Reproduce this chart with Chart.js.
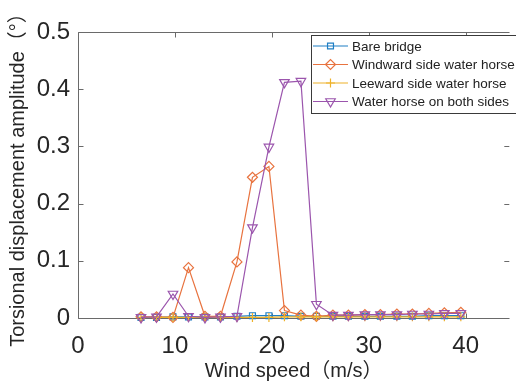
<!DOCTYPE html>
<html>
<head>
<meta charset="utf-8">
<script src="https://cdn.jsdelivr.net/npm/chart.js@4.4.1/dist/chart.umd.min.js"></script>
<style>
html,body{margin:0;padding:0;background:#fff;}
#wrap{width:516px;height:386px;}
</style>
</head>
<body>
<div id="wrap"><canvas id="c" width="516" height="386"></canvas></div>
<script>
const windSpeed = [6.5, 8.1, 9.8, 11.4, 13.1, 14.7, 16.4, 18.0, 19.7, 21.3, 23.0, 24.6, 26.3, 27.9, 29.6, 31.2, 32.9, 34.5, 36.2, 37.8, 39.5];
const bareBridge = [0.001, 0.001, 0.002, 0.002, 0.002, 0.002, 0.003, 0.004, 0.004, 0.004, 0.003, 0.003, 0.003, 0.003, 0.003, 0.003, 0.003, 0.003, 0.004, 0.004, 0.004];
const windwardHorse = [0.002, 0.002, 0.001, 0.088, 0.003, 0.003, 0.098, 0.246, 0.265, 0.013, 0.005, 0.003, 0.005, 0.005, 0.006, 0.006, 0.007, 0.007, 0.008, 0.009, 0.010];
const leewardHorse = [0.001, 0.001, 0.001, 0.001, 0.001, 0.001, 0.001, 0.001, 0.001, 0.002, 0.002, 0.002, 0.002, 0.002, 0.002, 0.002, 0.002, 0.002, 0.002, 0.002, 0.002];
const bothSidesHorse = [0.001, 0.002, 0.042, 0.003, 0.001, 0.002, 0.003, 0.158, 0.299, 0.412, 0.414, 0.024, 0.005, 0.005, 0.006, 0.006, 0.006, 0.007, 0.007, 0.008, 0.008];
const seriesNames = ['Bare bridge', 'Windward side water horse', 'Leeward side water horse', 'Water horse on both sides'];
const xTicks = [0, 10, 20, 30, 40];
const yTicks = [0, 0.1, 0.2, 0.3, 0.4, 0.5];

const colors = ['#1f7fc4', '#e8733f', '#eeb22a', '#9b55ad'];
const styles = [
  {pointStyle: 'rect', radius: 4.2, rotation: 0},
  {pointStyle: 'rectRot', radius: 5, rotation: 0},
  {pointStyle: 'cross', radius: 4.5, rotation: 0},
  {pointStyle: 'triangle', radius: 5.5, rotation: 180}
];
const FONT = '"Liberation Sans", Arial, "Noto Sans CJK SC", sans-serif';

function mk(i, vals, order) {
  return {
    label: seriesNames[i],
    data: windSpeed.map((x, k) => ({x: x, y: vals[k]})),
    borderColor: colors[i],
    backgroundColor: 'rgba(0,0,0,0)',
    pointBorderColor: colors[i],
    pointBackgroundColor: 'rgba(0,0,0,0)',
    borderWidth: 1.2,
    pointBorderWidth: 1.2,
    pointStyle: styles[i].pointStyle,
    pointRadius: styles[i].radius,
    pointRotation: styles[i].rotation,
    pointHoverRadius: styles[i].radius,
    tension: 0,
    fill: false,
    clip: false,
    order: order
  };
}

const framePlugin = {
  id: 'frame',
  beforeDatasetsDraw(chart) {
    const ctx = chart.ctx, a = chart.chartArea;
    const xs = chart.scales.x, ys = chart.scales.y;
    ctx.save();
    ctx.strokeStyle = '#6a6a6a';
    ctx.lineWidth = 1;
    ctx.beginPath();
    const L = Math.round(a.left) + 0.5, T = Math.round(a.top) + 0.5, B = Math.round(a.bottom) + 0.5, R = a.right;
    ctx.moveTo(L, T); ctx.lineTo(R, T);
    ctx.moveTo(L, T); ctx.lineTo(L, B);
    ctx.moveTo(L, B); ctx.lineTo(R, B);
    const tl = 5;
    xTicks.forEach(v => {
      const px = Math.round(xs.getPixelForValue(v)) + 0.5;
      ctx.moveTo(px, B); ctx.lineTo(px, B - tl);
      ctx.moveTo(px, T); ctx.lineTo(px, T + tl);
    });
    yTicks.forEach(v => {
      const py = Math.round(ys.getPixelForValue(v)) + 0.5;
      ctx.moveTo(L, py); ctx.lineTo(L + tl, py);
      ctx.moveTo(R, py); ctx.lineTo(R - tl, py);
    });
    ctx.stroke();
    ctx.restore();
  },
  afterDraw(chart) {
    const ctx = chart.ctx;
    ctx.save();
    const bx = 311.5, by = 35.5, bw = 210, bh = 78;
    ctx.fillStyle = '#ffffff';
    ctx.fillRect(bx, by, bw, bh);
    ctx.strokeStyle = '#3a3a3a';
    ctx.lineWidth = 1;
    ctx.strokeRect(bx, by, bw, bh);
    const rowsY = [46, 64.5, 83, 101.5];
    ctx.font = '13.5px ' + FONT;
    ctx.textBaseline = 'middle';
    ctx.textAlign = 'left';
    seriesNames.forEach((name, i) => {
      const y = rowsY[i];
      ctx.strokeStyle = colors[i];
      ctx.lineWidth = 1.2;
      ctx.beginPath();
      ctx.moveTo(313, y); ctx.lineTo(348, y);
      ctx.stroke();
      ctx.fillStyle = 'rgba(0,0,0,0)';
      Chart.helpers.drawPoint(ctx, {
        pointStyle: styles[i].pointStyle,
        radius: styles[i].radius,
        rotation: styles[i].rotation,
        borderWidth: 1.2
      }, 330.5, y);
      ctx.fillStyle = '#222222';
      ctx.fillText(name, 352, y + 1);
    });
    ctx.restore();
  }
};

new Chart(document.getElementById('c'), {
  type: 'line',
  data: {
    datasets: [
      mk(0, bareBridge, 4),
      mk(1, windwardHorse, 3),
      mk(2, leewardHorse, 2),
      mk(3, bothSidesHorse, 1)
    ]
  },
  options: {
    responsive: false,
    animation: false,
    devicePixelRatio: 1,
    layout: {padding: {top: 32, right: 0, left: 0, bottom: 0}},
    plugins: {legend: {display: false}, tooltip: {enabled: false}},
    scales: {
      x: {
        type: 'linear',
        min: 0,
        max: 44.5,
        afterFit: s => { s.height = 68; },
        afterBuildTicks: s => { s.ticks = xTicks.map(v => ({value: v})); },
        grid: {display: false, drawTicks: false},
        border: {display: false},
        ticks: {color: '#262626', font: {family: FONT, size: 24}, padding: 14, maxRotation: 0, autoSkip: false},
        title: {display: true, text: 'Wind speed（m/s）', color: '#262626', font: {family: FONT, size: 20}, padding: {top: 0, bottom: 3}}
      },
      y: {
        type: 'linear',
        min: 0,
        max: 0.5,
        afterFit: s => { s.width = 78; },
        afterBuildTicks: s => { s.ticks = yTicks.map(v => ({value: v})); },
        grid: {display: false, drawTicks: false},
        border: {display: false},
        ticks: {color: '#262626', font: {family: FONT, size: 24}, padding: 8, autoSkip: false,
          callback: v => (v === 0 ? '0' : v.toFixed(1))},
        title: {display: true, text: 'Torsional displacement amplitude（°）', color: '#262626', font: {family: FONT, size: 20}, padding: {top: 6, bottom: 0}}
      }
    }
  },
  plugins: [framePlugin]
});
</script>
</body>
</html>
